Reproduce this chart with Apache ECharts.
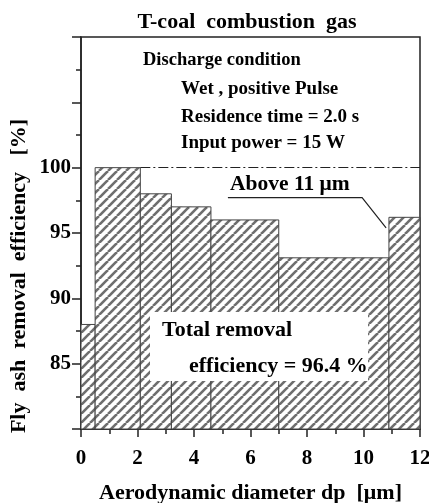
<!DOCTYPE html>
<html>
<head>
<meta charset="utf-8">
<script src="https://cdn.jsdelivr.net/npm/echarts@6/dist/echarts.min.js"></script>
<style>
  html, body { margin: 0; padding: 0; background: #fff; }
  #chart { width: 429px; height: 503px; }
</style>
</head>
<body>
<div id="chart"></div>
<script>
  // particle size bins (um) and removal efficiency (%)
  const sizeEdges = [0, 0.5, 2.1, 3.2, 4.6, 7.0, 10.9, 12];
  const removalEff = [88, 100, 98, 97, 96, 93.1, 96.2];
  const yTickLabels = [85, 90, 95, 100];
  // "Above 11 um" pointer, in data units
  const arrowPath = [[5.2, 97.7], [9.95, 97.7], [10.8, 95.4]];

  const FONT = 'Liberation Serif';

  // diagonal hatch
  const hatch = document.createElement('canvas');
  const s = 9;
  hatch.width = s; hatch.height = s;
  const ctx = hatch.getContext('2d');
  ctx.fillStyle = '#fff';
  ctx.fillRect(0, 0, s, s);
  ctx.strokeStyle = '#6e6e6e';
  ctx.lineWidth = 2.6;
  for (let k = -1; k <= 1; k++) {
    ctx.beginPath();
    ctx.moveTo(k * s, s);
    ctx.lineTo(k * s + s, 0);
    ctx.stroke();
  }
  const hatchFill = { image: hatch, repeat: 'repeat' };

  const binData = removalEff.map((v, i) => [sizeEdges[i], sizeEdges[i + 1], v]);

  // text helper, y is the vertical middle
  const txt = (text, x, y, size, align) => ({
    type: 'text', x: x, y: y, z: 20,
    style: {
      text: text, font: 'bold ' + size + 'px "Liberation Serif"', fill: '#000',
      textAlign: align || 'left', textVerticalAlign: 'middle'
    }
  });

  let chart = echarts.init(document.getElementById('chart'));
  var option = {
    animation: false,
    textStyle: { fontFamily: FONT, fontWeight: 'bold', color: '#000' },
    grid: {
      left: 81, right: 9, top: 37, bottom: 74,
      outerBoundsMode: 'none',
      show: true, borderColor: '#222', borderWidth: 1.5
    },
    xAxis: {
      type: 'value', min: 0, max: 12, interval: 2,
      name: 'Aerodynamic diameter dp  [\u03bcm]',
      nameLocation: 'middle', nameGap: 53,
      nameTextStyle: { fontFamily: FONT, fontWeight: 'bold', fontSize: 22, color: '#000' },
      axisLine: { lineStyle: { color: '#222', width: 1.5 } },
      axisTick: { inside: false, length: 8, lineStyle: { color: '#222', width: 1.5 } },
      minorTick: { show: true, splitNumber: 2, length: 5, lineStyle: { color: '#222', width: 1.5 } },
      splitLine: { show: false },
      axisLabel: { margin: 19, fontFamily: FONT, fontWeight: 'bold', fontSize: 21, color: '#000' }
    },
    yAxis: {
      type: 'value', min: 80, max: 110, interval: 5,
      axisLine: { lineStyle: { color: '#222', width: 1.5 } },
      axisTick: { inside: false, length: 9, lineStyle: { color: '#222', width: 1.5 } },
      minorTick: { show: true, splitNumber: 2, length: 5, lineStyle: { color: '#222', width: 1.5 } },
      splitLine: { show: false },
      axisLabel: {
        margin: 10, fontFamily: FONT, fontWeight: 'bold', fontSize: 21, color: '#000',
        formatter: v => (yTickLabels.indexOf(v) >= 0 ? String(v) : '')
      }
    },
    series: [
      {
        type: 'custom',
        data: binData,
        encode: { x: [0, 1], y: 2 },
        renderItem: function (params, api) {
          const top = api.coord([api.value(0), api.value(2)]);
          const bot = api.coord([api.value(1), 80]);
          return {
            type: 'rect',
            shape: { x: top[0], y: top[1], width: bot[0] - top[0], height: bot[1] - top[1] },
            style: { fill: hatchFill, stroke: '#444', lineWidth: 1 }
          };
        },
        markLine: {
          silent: true, symbol: 'none', label: { show: false },
          lineStyle: { color: '#222', width: 1.2, type: [10, 3, 2, 3] },
          data: [[{ coord: [sizeEdges[2], 100] }, { coord: [12, 100] }]]
        },
        z: 2
      },
      {
        type: 'lines',
        coordinateSystem: 'cartesian2d',
        polyline: true,
        silent: true,
        symbol: ['none', 'arrow'],
        symbolSize: 9,
        lineStyle: { color: '#222', width: 1.2, opacity: 1 },
        data: [{ coords: arrowPath }],
        z: 5
      }
    ],
    graphic: [
      txt('T-coal  combustion  gas', 247, 22, 22, 'center'),
      txt('Discharge condition', 143, 60, 18.5),
      txt('Wet , positive Pulse', 181, 89, 19),
      txt('Residence time = 2.0 s', 181, 117, 19),
      txt('Input power = 15 W', 181, 143, 19),
      txt('Above 11 \u03bcm', 230, 184, 21.5),
      {
        type: 'rect', z: 19, x: 150, y: 312,
        shape: { width: 218, height: 69 }, style: { fill: '#fff' }
      },
      txt('Total removal', 162, 330, 22),
      txt('efficiency = 96.4 %', 189, 366, 22),
      Object.assign(txt('Fly  ash  removal  efficiency   [%]', 0, 0, 22, 'center'),
        { x: 19, y: 276, rotation: Math.PI / 2 })
    ]
  };
  chart.setOption(option);
</script>
</body>
</html>
